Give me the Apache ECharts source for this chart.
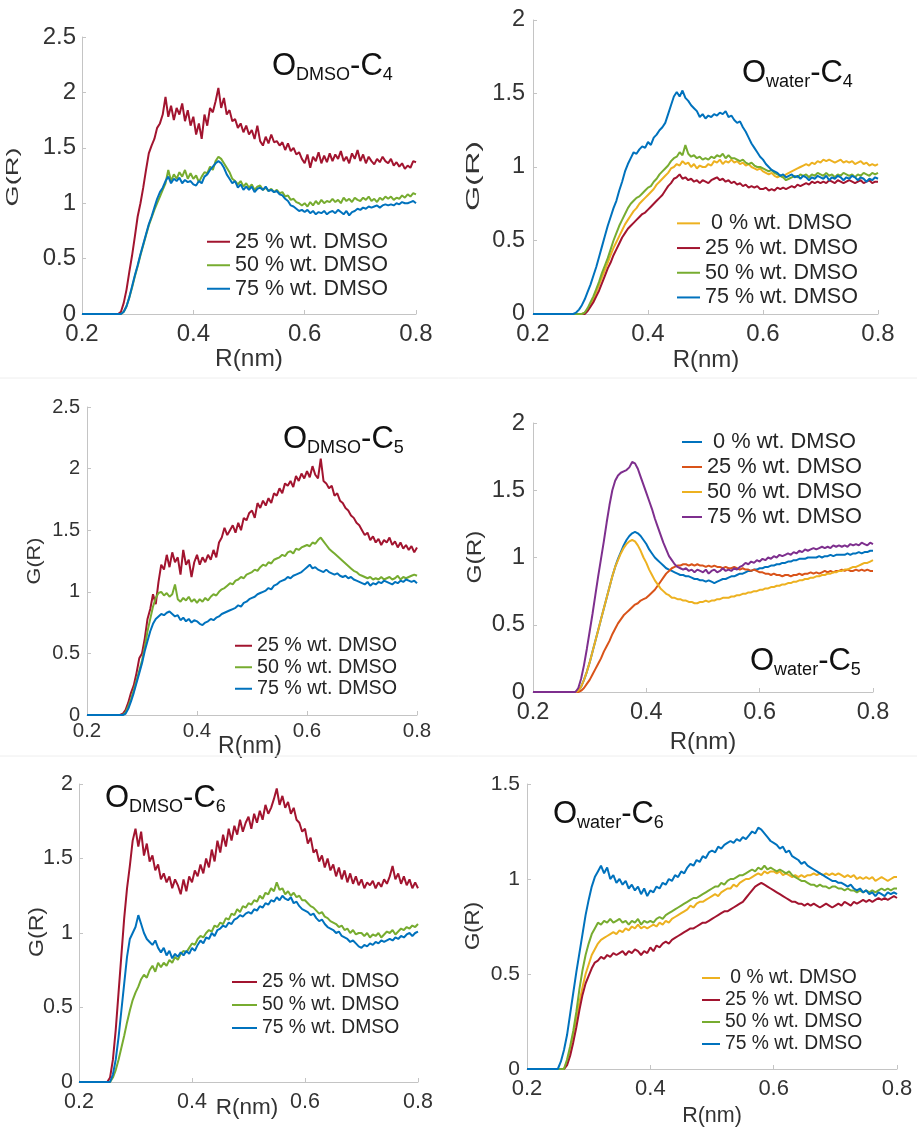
<!DOCTYPE html>
<html>
<head>
<meta charset="utf-8">
<script src="https://cdn.jsdelivr.net/npm/echarts@6/dist/echarts.min.js"></script>
<style>
html, body { margin: 0; padding: 0; background: #ffffff; }
#chart { width: 917px; height: 1128px; }
</style>
</head>
<body>
<div id="chart"></div>
<script>
// Radial distance grid R (nm), shared by every curve
const R = [0.2,
  0.25,0.255,0.26,0.265,0.27,0.275,0.28,0.285,0.29,0.295,
  0.3,0.305,0.31,0.315,0.32,0.325,0.33,0.335,0.34,0.345,
  0.35,0.355,0.36,0.365,0.37,0.375,0.38,0.385,0.39,0.395,
  0.4,0.405,0.41,0.415,0.42,0.425,0.43,0.435,0.44,0.445,
  0.45,0.455,0.46,0.465,0.47,0.475,0.48,0.485,0.49,0.495,
  0.5,0.505,0.51,0.515,0.52,0.525,0.53,0.535,0.54,0.545,
  0.55,0.555,0.56,0.565,0.57,0.575,0.58,0.585,0.59,0.595,
  0.6,0.605,0.61,0.615,0.62,0.625,0.63,0.635,0.64,0.645,
  0.65,0.655,0.66,0.665,0.67,0.675,0.68,0.685,0.69,0.695,
  0.7,0.705,0.71,0.715,0.72,0.725,0.73,0.735,0.74,0.745,
  0.75,0.755,0.76,0.765,0.77,0.775,0.78,0.785,0.79,0.795,
  0.8];

const xTicks = [0.2, 0.4, 0.6, 0.8];

// ---- O(DMSO)-C4 ----
const gDmsoC4_25 = [0,
  0,0,0,0,0.02,0.1,0.22,0.38,0.53,0.7,
  0.88,1.0,1.14,1.3,1.45,1.52,1.58,1.68,1.72,1.8,
  1.96,1.78,1.88,1.75,1.86,1.8,1.9,1.74,1.84,1.7,
  1.78,1.62,1.72,1.58,1.8,1.7,1.86,1.82,1.92,2.04,
  1.86,1.95,1.8,1.84,1.74,1.76,1.68,1.72,1.64,1.7,
  1.62,1.66,1.58,1.7,1.56,1.52,1.6,1.54,1.62,1.55,
  1.56,1.52,1.55,1.48,1.54,1.47,1.5,1.44,1.46,1.4,
  1.36,1.44,1.32,1.42,1.38,1.46,1.36,1.43,1.37,1.45,
  1.38,1.44,1.4,1.47,1.38,1.42,1.36,1.45,1.4,1.48,
  1.38,1.44,1.36,1.42,1.38,1.35,1.4,1.37,1.42,1.38,
  1.36,1.4,1.34,1.37,1.33,1.36,1.31,1.34,1.32,1.38,
  1.37];
const gDmsoC4_50 = [0,
  0,0,0,0,0,0.02,0.07,0.15,0.24,0.34,
  0.43,0.53,0.62,0.71,0.8,0.87,0.94,1.0,1.06,1.12,
  1.18,1.3,1.2,1.26,1.22,1.28,1.24,1.3,1.22,1.27,
  1.22,1.25,1.19,1.24,1.28,1.27,1.33,1.3,1.38,1.42,
  1.4,1.36,1.32,1.28,1.22,1.2,1.17,1.2,1.15,1.18,
  1.14,1.17,1.12,1.15,1.16,1.12,1.14,1.11,1.13,1.1,
  1.12,1.09,1.1,1.06,1.07,1.03,1.04,1.01,1.0,0.98,
  1.0,0.97,1.01,0.98,1.02,0.99,1.03,1.0,1.02,1.01,
  1.04,1.01,1.03,1.0,1.05,1.02,1.04,1.01,1.05,1.03,
  1.02,1.05,1.03,1.06,1.02,1.04,1.01,1.05,1.03,1.06,
  1.04,1.06,1.03,1.05,1.04,1.07,1.05,1.08,1.06,1.09,
  1.08];
const gDmsoC4_75 = [0,
  0,0,0,0,0,0.02,0.07,0.15,0.25,0.35,
  0.44,0.54,0.63,0.72,0.81,0.88,0.96,1.04,1.1,1.14,
  1.2,1.24,1.18,1.22,1.2,1.23,1.18,1.21,1.19,1.2,
  1.17,1.16,1.2,1.18,1.24,1.26,1.3,1.33,1.36,1.38,
  1.36,1.32,1.26,1.22,1.18,1.2,1.14,1.17,1.12,1.15,
  1.12,1.15,1.1,1.13,1.14,1.12,1.15,1.11,1.12,1.1,
  1.11,1.08,1.07,1.04,1.02,0.98,0.97,0.95,0.93,0.94,
  0.92,0.94,0.91,0.93,0.9,0.92,0.91,0.93,0.9,0.92,
  0.93,0.91,0.94,0.92,0.9,0.93,0.89,0.92,0.93,0.95,
  0.94,0.96,0.95,0.97,0.96,0.97,0.98,0.96,0.98,0.99,
  0.98,0.99,0.98,1.0,0.99,1.01,1.0,1.0,1.01,1.02,
  1.0];

// ---- O(water)-C4 ----
const gWaterC4_0 = [0,
  0,0,0,0,0,0,0,0,0.01,0.03,
  0.06,0.1,0.15,0.2,0.25,0.3,0.35,0.4,0.45,0.49,
  0.53,0.57,0.61,0.64,0.67,0.7,0.72,0.75,0.77,0.79,
  0.81,0.83,0.85,0.88,0.9,0.92,0.94,0.96,0.99,1.0,
  1.02,1.01,1.04,1.02,1.03,1.0,1.02,0.99,1.01,1.0,
  1.0,1.02,1.01,1.04,1.03,1.05,1.02,1.04,1.03,1.05,
  1.03,1.04,1.02,1.03,1.01,1.02,1.0,0.99,0.98,0.99,
  0.97,0.96,0.95,0.96,0.94,0.93,0.94,0.93,0.95,0.96,
  0.97,0.98,0.99,1.0,1.01,1.02,1.01,1.03,1.02,1.04,
  1.03,1.05,1.04,1.05,1.04,1.03,1.04,1.05,1.03,1.04,
  1.03,1.04,1.02,1.03,1.04,1.02,1.03,1.01,1.02,1.01,
  1.02];
const gWaterC4_25 = [0,
  0,0,0,0,0,0,0,0,0,0.02,
  0.05,0.08,0.12,0.16,0.21,0.26,0.31,0.35,0.4,0.44,
  0.48,0.52,0.55,0.58,0.6,0.62,0.64,0.66,0.68,0.69,
  0.71,0.73,0.75,0.77,0.79,0.81,0.84,0.87,0.89,0.92,
  0.93,0.95,0.92,0.93,0.91,0.92,0.9,0.91,0.89,0.91,
  0.9,0.89,0.91,0.92,0.93,0.91,0.92,0.9,0.91,0.89,
  0.9,0.88,0.89,0.87,0.88,0.86,0.87,0.86,0.87,0.85,
  0.85,0.86,0.84,0.85,0.84,0.86,0.85,0.86,0.85,0.86,
  0.87,0.86,0.88,0.87,0.88,0.89,0.88,0.9,0.89,0.9,
  0.89,0.9,0.89,0.91,0.9,0.89,0.91,0.9,0.89,0.9,
  0.91,0.9,0.89,0.9,0.91,0.89,0.9,0.91,0.89,0.9,
  0.9];
const gWaterC4_50 = [0,
  0,0,0,0,0,0,0,0,0.01,0.04,
  0.08,0.12,0.17,0.22,0.28,0.33,0.38,0.44,0.5,0.55,
  0.6,0.64,0.68,0.72,0.75,0.77,0.79,0.8,0.82,0.84,
  0.86,0.87,0.9,0.92,0.95,0.97,0.99,1.01,1.04,1.06,
  1.07,1.1,1.08,1.15,1.09,1.07,1.08,1.06,1.07,1.05,
  1.06,1.05,1.07,1.06,1.08,1.07,1.09,1.06,1.08,1.06,
  1.06,1.05,1.04,1.05,1.03,1.02,1.03,1.01,1.0,1.0,
  0.99,0.98,0.97,0.98,0.96,0.95,0.94,0.93,0.91,0.92,
  0.93,0.94,0.93,0.95,0.94,0.95,0.93,0.95,0.94,0.96,
  0.95,0.94,0.96,0.94,0.95,0.93,0.95,0.94,0.96,0.95,
  0.94,0.95,0.93,0.95,0.94,0.96,0.95,0.94,0.96,0.95,
  0.96];
const gWaterC4_75 = [0,
  0,0,0,0,0,0.01,0.03,0.06,0.1,0.15,
  0.2,0.26,0.32,0.39,0.46,0.53,0.6,0.66,0.72,0.77,
  0.84,0.9,0.97,1.02,1.06,1.1,1.09,1.12,1.14,1.13,
  1.17,1.15,1.2,1.22,1.25,1.27,1.3,1.36,1.42,1.48,
  1.51,1.48,1.52,1.47,1.45,1.42,1.4,1.38,1.34,1.36,
  1.33,1.35,1.34,1.36,1.35,1.37,1.36,1.38,1.34,1.35,
  1.32,1.3,1.31,1.27,1.24,1.2,1.16,1.13,1.1,1.07,
  1.05,1.02,1.0,0.98,0.97,0.96,0.94,0.95,0.93,0.94,
  0.95,0.93,0.94,0.92,0.94,0.93,0.91,0.93,0.92,0.94,
  0.93,0.92,0.94,0.91,0.93,0.92,0.94,0.93,0.91,0.93,
  0.92,0.94,0.93,0.91,0.93,0.92,0.9,0.92,0.91,0.93,
  0.92];

// ---- O(DMSO)-C5 ----
const gDmsoC5_25 = [0,
  0,0,0,0.01,0.04,0.1,0.18,0.24,0.34,0.46,
  0.5,0.62,0.78,0.86,0.98,0.9,1.08,1.22,1.18,1.3,
  1.2,1.32,1.24,1.28,1.14,1.34,1.22,1.26,1.12,1.24,
  1.3,1.22,1.28,1.24,1.3,1.26,1.34,1.28,1.4,1.44,
  1.52,1.46,1.5,1.54,1.48,1.56,1.5,1.6,1.58,1.64,
  1.66,1.6,1.72,1.68,1.74,1.7,1.76,1.72,1.8,1.78,
  1.84,1.8,1.88,1.86,1.9,1.85,1.94,1.9,1.96,1.92,
  1.98,1.93,2.02,1.95,1.92,2.08,1.9,1.88,1.84,1.86,
  1.78,1.8,1.74,1.72,1.68,1.66,1.62,1.6,1.56,1.54,
  1.5,1.46,1.48,1.42,1.45,1.4,1.43,1.38,1.42,1.4,
  1.44,1.38,1.41,1.36,1.4,1.35,1.38,1.34,1.37,1.32,
  1.36];
const gDmsoC5_50 = [0,
  0,0,0,0,0.02,0.07,0.13,0.2,0.28,0.36,
  0.44,0.55,0.68,0.78,0.88,0.95,0.99,1.0,0.97,0.99,
  0.96,0.98,1.06,0.94,0.92,0.95,0.93,0.96,0.92,0.94,
  0.91,0.94,0.92,0.95,0.93,0.96,0.98,0.97,1.0,1.02,
  1.03,1.05,1.07,1.06,1.09,1.1,1.12,1.11,1.14,1.15,
  1.16,1.18,1.17,1.2,1.22,1.21,1.24,1.23,1.26,1.27,
  1.28,1.3,1.29,1.32,1.33,1.31,1.35,1.34,1.36,1.37,
  1.38,1.37,1.4,1.39,1.42,1.44,1.41,1.38,1.35,1.33,
  1.31,1.29,1.27,1.25,1.23,1.21,1.19,1.17,1.16,1.14,
  1.13,1.12,1.11,1.12,1.1,1.11,1.1,1.12,1.1,1.11,
  1.12,1.1,1.11,1.13,1.1,1.12,1.11,1.12,1.13,1.14,
  1.13];
const gDmsoC5_75 = [0,
  0,0,0,0,0.01,0.05,0.11,0.18,0.26,0.34,
  0.42,0.52,0.6,0.68,0.74,0.78,0.8,0.82,0.81,0.83,
  0.84,0.82,0.8,0.81,0.77,0.79,0.76,0.78,0.75,0.77,
  0.76,0.74,0.73,0.75,0.76,0.78,0.77,0.79,0.8,0.82,
  0.83,0.84,0.85,0.86,0.87,0.89,0.88,0.91,0.92,0.94,
  0.95,0.96,0.98,0.99,1.0,1.01,1.03,1.02,1.05,1.06,
  1.08,1.09,1.1,1.12,1.11,1.13,1.14,1.15,1.16,1.18,
  1.2,1.22,1.19,1.2,1.18,1.17,1.16,1.18,1.16,1.15,
  1.14,1.15,1.13,1.12,1.13,1.11,1.12,1.1,1.09,1.08,
  1.07,1.06,1.08,1.05,1.07,1.06,1.08,1.07,1.09,1.08,
  1.07,1.06,1.08,1.07,1.09,1.08,1.1,1.09,1.08,1.09,
  1.07];

// ---- O(water)-C5 ----
const gWaterC5_0 = [0,
  0,0,0,0,0,0,0.01,0.04,0.09,0.15,
  0.22,0.3,0.38,0.46,0.54,0.62,0.7,0.78,0.86,0.93,
  0.99,1.04,1.09,1.13,1.16,1.18,1.19,1.18,1.16,1.13,
  1.1,1.06,1.03,1.0,0.98,0.96,0.94,0.92,0.91,0.9,
  0.89,0.88,0.87,0.87,0.86,0.86,0.85,0.84,0.84,0.83,
  0.83,0.82,0.83,0.82,0.81,0.82,0.83,0.84,0.84,0.85,
  0.86,0.86,0.87,0.88,0.88,0.89,0.9,0.9,0.91,0.91,
  0.92,0.92,0.93,0.93,0.94,0.94,0.95,0.95,0.96,0.96,
  0.97,0.97,0.98,0.98,0.99,0.99,0.99,1.0,1.0,1.0,
  1.0,1.01,1.0,1.01,1.01,1.02,1.01,1.02,1.02,1.02,
  1.02,1.03,1.02,1.03,1.03,1.04,1.03,1.04,1.04,1.05,
  1.05];
const gWaterC5_25 = [0,
  0,0,0,0,0,0,0,0.01,0.03,0.06,
  0.09,0.13,0.17,0.21,0.25,0.3,0.34,0.38,0.43,0.47,
  0.51,0.54,0.57,0.59,0.61,0.63,0.65,0.66,0.68,0.69,
  0.7,0.72,0.74,0.76,0.79,0.82,0.85,0.88,0.9,0.92,
  0.93,0.94,0.94,0.95,0.95,0.94,0.95,0.94,0.95,0.94,
  0.94,0.93,0.94,0.93,0.94,0.93,0.93,0.92,0.93,0.92,
  0.92,0.93,0.92,0.91,0.92,0.91,0.91,0.9,0.91,0.9,
  0.89,0.89,0.88,0.88,0.87,0.88,0.87,0.87,0.86,0.87,
  0.87,0.86,0.87,0.87,0.88,0.87,0.88,0.88,0.89,0.88,
  0.89,0.88,0.89,0.9,0.89,0.9,0.89,0.9,0.9,0.91,
  0.9,0.91,0.9,0.9,0.91,0.9,0.91,0.9,0.91,0.9,
  0.9];
const gWaterC5_50 = [0,
  0,0,0,0,0,0,0.01,0.04,0.09,0.15,
  0.22,0.3,0.38,0.46,0.54,0.62,0.7,0.78,0.86,0.93,
  0.98,1.03,1.07,1.1,1.12,1.13,1.12,1.09,1.05,1.0,
  0.96,0.91,0.87,0.83,0.8,0.77,0.75,0.73,0.72,0.7,
  0.7,0.69,0.69,0.68,0.68,0.67,0.67,0.66,0.66,0.67,
  0.67,0.68,0.67,0.68,0.68,0.69,0.69,0.7,0.7,0.7,
  0.71,0.71,0.72,0.72,0.73,0.73,0.74,0.74,0.75,0.75,
  0.76,0.76,0.77,0.77,0.78,0.78,0.79,0.79,0.8,0.8,
  0.81,0.81,0.82,0.82,0.83,0.83,0.84,0.84,0.85,0.85,
  0.86,0.86,0.87,0.87,0.88,0.88,0.89,0.89,0.9,0.9,
  0.91,0.91,0.92,0.93,0.93,0.94,0.95,0.96,0.96,0.97,
  0.98];
const gWaterC5_75 = [0,
  0,0,0,0,0,0,0.03,0.1,0.2,0.32,
  0.45,0.58,0.72,0.86,0.99,1.12,1.26,1.39,1.5,1.57,
  1.61,1.63,1.64,1.65,1.67,1.71,1.7,1.66,1.6,1.54,
  1.48,1.42,1.36,1.29,1.23,1.17,1.11,1.06,1.01,0.98,
  0.95,0.93,0.92,0.91,0.92,0.9,0.91,0.89,0.91,0.9,
  0.89,0.91,0.88,0.9,0.91,0.89,0.9,0.92,0.9,0.91,
  0.9,0.92,0.91,0.93,0.94,0.96,0.95,0.97,0.96,0.98,
  0.97,0.99,0.98,1.0,0.99,1.01,1.0,1.02,1.01,1.02,
  1.03,1.02,1.04,1.03,1.05,1.04,1.06,1.05,1.06,1.07,
  1.06,1.07,1.08,1.07,1.08,1.07,1.09,1.08,1.09,1.08,
  1.09,1.08,1.1,1.09,1.1,1.09,1.11,1.1,1.09,1.11,
  1.1];

// ---- O(DMSO)-C6 ----
const gDmsoC6_25 = [0,
  0,0.03,0.15,0.35,0.6,0.85,1.1,1.3,1.45,1.62,
  1.7,1.58,1.68,1.52,1.6,1.48,1.52,1.42,1.46,1.36,
  1.4,1.34,1.38,1.3,1.36,1.32,1.26,1.36,1.28,1.38,
  1.34,1.42,1.38,1.46,1.4,1.5,1.44,1.56,1.48,1.62,
  1.54,1.66,1.58,1.7,1.62,1.72,1.66,1.76,1.68,1.74,
  1.78,1.7,1.8,1.74,1.82,1.76,1.86,1.8,1.84,1.9,
  1.97,1.86,1.92,1.84,1.88,1.8,1.84,1.76,1.74,1.68,
  1.7,1.6,1.64,1.54,1.56,1.48,1.52,1.44,1.5,1.42,
  1.46,1.38,1.44,1.36,1.42,1.34,1.4,1.33,1.38,1.32,
  1.36,1.3,1.34,1.32,1.35,1.3,1.34,1.31,1.36,1.33,
  1.38,1.45,1.36,1.4,1.33,1.38,1.32,1.36,1.3,1.34,
  1.3];
const gDmsoC6_50 = [0,
  0,0,0.03,0.08,0.15,0.23,0.31,0.4,0.48,0.55,
  0.6,0.64,0.69,0.72,0.7,0.75,0.78,0.74,0.8,0.77,
  0.8,0.78,0.82,0.8,0.84,0.82,0.86,0.88,0.87,0.9,
  0.93,0.92,0.96,0.98,0.97,1.0,1.02,1.01,1.05,1.04,
  1.07,1.06,1.1,1.09,1.13,1.12,1.16,1.14,1.18,1.17,
  1.2,1.19,1.22,1.21,1.25,1.23,1.27,1.26,1.3,1.28,
  1.34,1.29,1.3,1.26,1.28,1.25,1.27,1.24,1.25,1.22,
  1.22,1.2,1.18,1.17,1.15,1.13,1.14,1.11,1.1,1.08,
  1.07,1.06,1.04,1.05,1.02,1.03,1.0,1.02,0.99,1.0,
  1.0,0.98,1.0,0.97,0.99,0.98,1.0,0.97,0.99,1.01,
  1.0,1.02,0.99,1.01,1.03,1.02,1.04,1.03,1.05,1.04,
  1.06];
const gDmsoC6_75 = [0,
  0,0,0.05,0.15,0.3,0.48,0.66,0.84,0.96,1.0,
  1.04,1.12,1.06,1.0,0.96,0.94,0.92,0.95,0.9,0.87,
  0.9,0.85,0.88,0.83,0.86,0.84,0.87,0.85,0.88,0.86,
  0.9,0.88,0.92,0.95,0.93,0.97,0.96,1.0,0.98,1.02,
  1.03,1.05,1.04,1.07,1.06,1.09,1.1,1.12,1.11,1.13,
  1.14,1.13,1.16,1.15,1.18,1.17,1.2,1.19,1.22,1.21,
  1.24,1.22,1.25,1.23,1.22,1.24,1.2,1.21,1.18,1.16,
  1.15,1.14,1.12,1.13,1.1,1.08,1.09,1.06,1.04,1.03,
  1.02,1.0,1.01,0.98,0.97,0.96,0.94,0.95,0.93,0.91,
  0.9,0.92,0.91,0.93,0.92,0.94,0.93,0.95,0.94,0.95,
  0.96,0.95,0.97,0.96,0.98,0.97,0.99,1.0,0.98,1.0,
  1.01];

// ---- O(water)-C6 ----
const gWaterC6_0 = [0,
  0,0,0,0.04,0.1,0.18,0.27,0.35,0.43,0.5,
  0.55,0.6,0.63,0.66,0.68,0.69,0.7,0.71,0.72,0.71,
  0.73,0.72,0.74,0.73,0.75,0.74,0.76,0.74,0.75,0.74,
  0.75,0.76,0.75,0.77,0.76,0.78,0.77,0.79,0.8,0.81,
  0.82,0.83,0.84,0.86,0.85,0.87,0.88,0.88,0.89,0.9,
  0.91,0.92,0.91,0.93,0.94,0.95,0.95,0.97,0.96,0.98,
  0.99,1.0,1.0,1.01,1.02,1.03,1.02,1.04,1.03,1.04,
  1.04,1.03,1.04,1.02,1.03,1.02,1.01,1.02,1.01,1.02,
  1.01,1.02,1.02,1.03,1.02,1.03,1.02,1.03,1.02,1.03,
  1.02,1.03,1.02,1.01,1.02,1.01,1.02,1.0,1.01,1.0,
  1.01,1.0,1.01,0.99,1.0,1.01,1.0,0.99,1.0,1.01,
  1.01];
const gWaterC6_25 = [0,
  0,0,0,0.02,0.07,0.14,0.22,0.31,0.39,0.45,
  0.49,0.53,0.56,0.57,0.59,0.58,0.6,0.59,0.61,0.6,
  0.61,0.62,0.6,0.62,0.61,0.63,0.62,0.6,0.62,0.61,
  0.64,0.62,0.65,0.64,0.66,0.67,0.66,0.68,0.69,0.7,
  0.71,0.72,0.73,0.74,0.74,0.75,0.76,0.77,0.77,0.78,
  0.79,0.8,0.81,0.82,0.83,0.83,0.84,0.85,0.86,0.87,
  0.88,0.9,0.92,0.94,0.96,0.97,0.98,0.97,0.96,0.95,
  0.94,0.93,0.92,0.91,0.9,0.89,0.88,0.88,0.87,0.87,
  0.86,0.87,0.86,0.87,0.86,0.85,0.86,0.87,0.86,0.85,
  0.86,0.87,0.86,0.88,0.87,0.86,0.88,0.87,0.88,0.89,
  0.88,0.89,0.88,0.89,0.9,0.89,0.9,0.89,0.9,0.91,
  0.9];
const gWaterC6_50 = [0,
  0,0,0,0.05,0.12,0.2,0.3,0.42,0.52,0.6,
  0.66,0.71,0.74,0.77,0.76,0.78,0.77,0.79,0.77,0.78,
  0.79,0.77,0.78,0.76,0.78,0.77,0.79,0.76,0.78,0.77,
  0.78,0.77,0.79,0.8,0.79,0.81,0.82,0.83,0.84,0.85,
  0.86,0.87,0.88,0.89,0.9,0.9,0.91,0.92,0.93,0.94,
  0.95,0.96,0.96,0.98,0.97,0.99,1.0,1.0,1.01,1.02,
  1.02,1.03,1.04,1.05,1.04,1.06,1.05,1.07,1.05,1.06,
  1.05,1.04,1.05,1.04,1.03,1.04,1.02,1.01,1.0,0.99,
  0.99,0.98,0.97,0.97,0.96,0.97,0.96,0.96,0.95,0.96,
  0.96,0.95,0.95,0.94,0.95,0.94,0.94,0.93,0.94,0.93,
  0.94,0.93,0.94,0.93,0.94,0.95,0.94,0.95,0.94,0.95,
  0.95];
const gWaterC6_75 = [0,
  0,0.04,0.1,0.18,0.29,0.4,0.51,0.61,0.71,0.81,
  0.89,0.96,1.01,1.04,1.07,1.03,1.06,1.0,1.02,0.98,
  1.0,0.97,0.99,0.95,0.97,0.94,0.96,0.92,0.95,0.91,
  0.94,0.93,0.96,0.95,0.98,0.97,1.0,0.99,1.02,1.01,
  1.04,1.03,1.06,1.08,1.07,1.1,1.09,1.12,1.11,1.14,
  1.15,1.14,1.17,1.16,1.18,1.19,1.2,1.19,1.21,1.2,
  1.22,1.21,1.23,1.25,1.24,1.27,1.26,1.24,1.22,1.2,
  1.19,1.18,1.16,1.17,1.14,1.15,1.12,1.11,1.1,1.08,
  1.09,1.07,1.06,1.05,1.04,1.03,1.02,1.01,1.0,0.99,
  0.99,0.98,0.98,0.97,0.96,0.97,0.95,0.94,0.95,0.93,
  0.94,0.92,0.93,0.91,0.93,0.92,0.91,0.93,0.92,0.93,
  0.92];

// Line colours
const RED = '#A2142F', GREEN = '#77AC30', BLUE = '#0072BD',
      YELLOW = '#EDB120', ORANGE = '#D95319', PURPLE = '#7E2F8E';
const FONT = '"Liberation Sans", Arial, Helvetica, sans-serif';

const L0 = ' 0 % wt. DMSO', L25 = '25 % wt. DMSO', L50 = '50 % wt. DMSO', L75 = '75 % wt. DMSO';

const panels = [
  { grid: { left: 82, top: 37, width: 334, height: 277 }, yMax: 2.5,
    yLab: [24, 6], xLab: [24, 8],
    title: { sub: 'DMSO', idx: '4', left: 272, top: 48 },
    legend: { left: 207, top: 230, w: 23, size: 21.5, lh: 23.5 },
    xName: { x: 249, y: 359, size: 24.5 }, yName: { x: 13.5, y: 177, size: 17, sx: 1.6 },
    series: [[L25, gDmsoC4_25, RED], [L50, gDmsoC4_50, GREEN], [L75, gDmsoC4_75, BLUE]] },
  { grid: { left: 533, top: 20, width: 345, height: 294 }, yMax: 2,
    yLab: [23.5, 8], xLab: [24, 8],
    title: { sub: 'water', idx: '4', left: 742, top: 55 },
    legend: { left: 677, top: 211, w: 23, size: 21.5, lh: 24.7 },
    xName: { x: 706, y: 360, size: 24 }, yName: { x: 473.5, y: 176, size: 18.5, sx: 1.75 },
    series: [[L0, gWaterC4_0, YELLOW], [L25, gWaterC4_25, RED], [L50, gWaterC4_50, GREEN], [L75, gWaterC4_75, BLUE]] },
  { grid: { left: 87, top: 407, width: 330, height: 308 }, yMax: 2.5,
    yLab: [20, 7], xLab: [20.5, 6],
    title: { sub: 'DMSO', idx: '5', left: 283, top: 421 },
    legend: { left: 235, top: 635, w: 17, size: 19.7, lh: 21.5 },
    xName: { x: 250, y: 747, size: 23 }, yName: { x: 35, y: 561, size: 18, sx: 1.2 },
    series: [[L25, gDmsoC5_25, RED], [L50, gDmsoC5_50, GREEN], [L75, gDmsoC5_75, BLUE]] },
  { grid: { left: 533, top: 423, width: 340, height: 269 }, yMax: 2,
    yLab: [24, 8], xLab: [23.5, 9],
    title: { sub: 'water', idx: '5', left: 750, top: 643 },
    legend: { left: 682, top: 429.5, w: 20, size: 21.8, lh: 25 },
    xName: { x: 703, y: 742, size: 24 }, yName: { x: 475, y: 557, size: 21, sx: 1.16 },
    series: [[L0, gWaterC5_0, BLUE], [L25, gWaterC5_25, ORANGE], [L50, gWaterC5_50, YELLOW], [L75, gWaterC5_75, PURPLE]] },
  { grid: { left: 79, top: 784, width: 339, height: 298 }, yMax: 2,
    yLab: [21.5, 6], xLab: [21.5, 9],
    title: { sub: 'DMSO', idx: '6', left: 105, top: 780 },
    legend: { left: 232, top: 970.5, w: 25, size: 19.3, lh: 23 },
    xName: { x: 247, y: 1108, size: 22.5 }, yName: { x: 37, y: 932, size: 20.5, sx: 1.13 },
    series: [[L25, gDmsoC6_25, RED], [L50, gDmsoC6_50, GREEN], [L75, gDmsoC6_75, BLUE]] },
  { grid: { left: 527, top: 784, width: 370, height: 285 }, yMax: 1.5,
    yLab: [21, 7], xLab: [22, 9],
    title: { sub: 'water', idx: '6', left: 553, top: 796 },
    legend: { left: 702, top: 967, w: 18, size: 19.3, lh: 22 },
    xName: { x: 712, y: 1116, size: 21.5 }, yName: { x: 474, y: 926, size: 19.5, sx: 1.14 },
    series: [[L0, gWaterC6_0, YELLOW], [L25, gWaterC6_25, RED], [L50, gWaterC6_50, GREEN], [L75, gWaterC6_75, BLUE]] }
];

const AXIS_GRAY = '#c4c4c4';
const TEXT = '#333333';

const option = {
  animation: false,
  backgroundColor: '#ffffff',
  grid: [], xAxis: [], yAxis: [], series: [], legend: [], title: [], graphic: []
};

panels.forEach((p, i) => {
  option.grid.push(Object.assign({ containLabel: false }, p.grid));
  option.xAxis.push({
    type: 'value', gridIndex: i,
    min: xTicks[0], max: xTicks[xTicks.length - 1], interval: xTicks[1] - xTicks[0],
    axisLine: { show: true, onZero: false, lineStyle: { color: AXIS_GRAY, width: 1 } },
    axisTick: { show: true, inside: true, length: 4, lineStyle: { color: AXIS_GRAY } },
    axisLabel: { fontSize: p.xLab[0], margin: p.xLab[1], color: TEXT, fontFamily: FONT,
      formatter: v => String(Math.round(v * 10) / 10) },
    splitLine: { show: false }
  });
  option.yAxis.push({
    type: 'value', gridIndex: i, min: 0, max: p.yMax, interval: 0.5,
    axisLine: { show: true, lineStyle: { color: AXIS_GRAY, width: 1 } },
    axisTick: { show: true, inside: true, length: 4, lineStyle: { color: AXIS_GRAY } },
    axisLabel: { fontSize: p.yLab[0], margin: p.yLab[1], color: TEXT, fontFamily: FONT },
    splitLine: { show: false }
  });
  p.series.forEach(([name, g, color]) => {
    option.series.push({
      type: 'line', name, xAxisIndex: i, yAxisIndex: i,
      data: R.map((r, k) => [r, g[k]]),
      showSymbol: false, symbol: 'none',
      lineStyle: { width: 2, color },
      itemStyle: { color },
      emphasis: { disabled: true }
    });
  });
  option.legend.push({
    orient: 'vertical', left: p.legend.left, top: p.legend.top, padding: 0,
    itemWidth: p.legend.w, itemHeight: 2, itemGap: 0, icon: 'rect',
    selectedMode: false,
    data: p.series.map(([name, , color]) => ({ name, itemStyle: { color } })),
    textStyle: { fontSize: p.legend.size, lineHeight: p.legend.lh, color: '#262626', fontFamily: FONT }
  });
  option.title.push({
    left: p.title.left, top: p.title.top, padding: 0,
    text: '{m|O}{s|' + p.title.sub + '}{m|-C}{s|' + p.title.idx + '}',
    textStyle: {
      fontWeight: 'normal', fontFamily: FONT, color: '#111111',
      rich: {
        m: { fontSize: 31, lineHeight: 36, fontFamily: FONT, fontWeight: 'normal', color: '#111111' },
        s: { fontSize: 18, lineHeight: 26, verticalAlign: 'bottom', fontFamily: FONT, fontWeight: 'normal', color: '#111111' }
      }
    }
  });
  // axis titles
  option.graphic.push({
    type: 'text', x: p.xName.x, y: p.xName.y, silent: true,
    style: { text: 'R(nm)', fontSize: p.xName.size, fontFamily: FONT, fill: TEXT, align: 'center', verticalAlign: 'middle' }
  });
  option.graphic.push({
    type: 'text', x: p.yName.x, y: p.yName.y, rotation: Math.PI / 2, scaleX: p.yName.sx, scaleY: 1, silent: true,
    style: { text: 'G(R)', fontSize: p.yName.size, fontFamily: FONT, fill: TEXT, align: 'center', verticalAlign: 'middle' }
  });
});

// faint seams between the rows of panels
[378, 756].forEach(y => option.graphic.push({
  type: 'line', silent: true, shape: { x1: 0, y1: y, x2: 917, y2: y },
  style: { stroke: '#eeeeee', lineWidth: 1 }
}));

const chart = echarts.init(document.getElementById('chart'), null, { renderer: 'canvas' });
chart.setOption(option);
</script>
</body>
</html>
